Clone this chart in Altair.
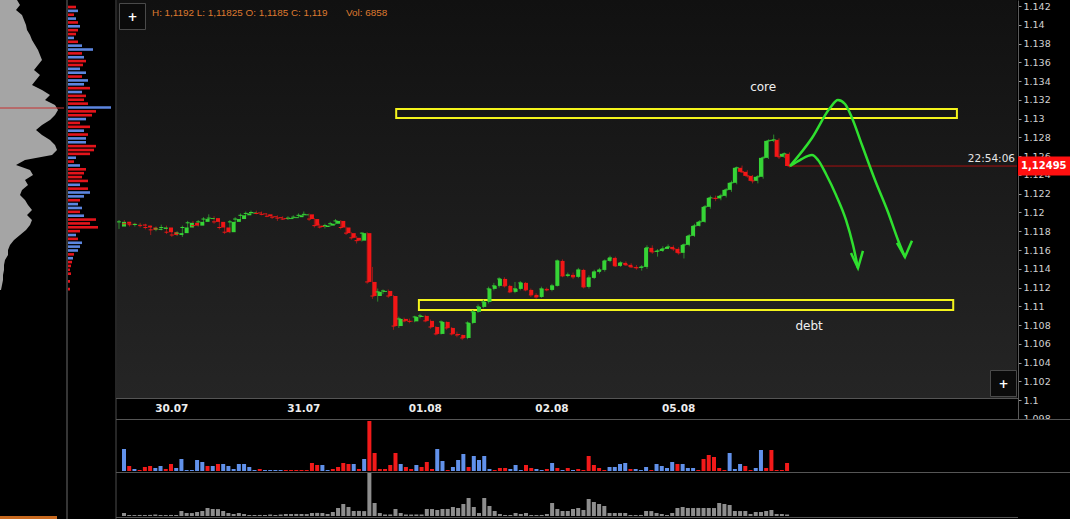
import altair as alt
import pandas as pd

# ---------------- hourly EUR/USD candles ----------------
OPEN = [1.1185, 1.1190, 1.1188, 1.1187, 1.11872, 1.1186, 1.1184, 1.11815, 1.11825, 1.1184,
        1.1179, 1.1176, 1.1178, 1.1184, 1.1189, 1.1186, 1.1190, 1.1193, 1.1194, 1.1190,
        1.1184, 1.1179, 1.1190, 1.1193, 1.1197, 1.1199, 1.1200, 1.1199, 1.1198, 1.1196,
        1.1195, 1.1194, 1.1193, 1.1194, 1.1195, 1.1197, 1.1198, 1.1193, 1.1186, 1.11845,
        1.1186, 1.1188, 1.1191, 1.1184, 1.1178, 1.1173, 1.1170, 1.1178, 1.1126, 1.1111,
        1.11154, 1.11164, 1.1111, 1.1079, 1.10866, 1.10845, 1.1084, 1.10887, 1.10898, 1.10845,
        1.1078, 1.10706, 1.10834, 1.1077, 1.10706, 1.10695, 1.10663, 1.10823, 1.10941, 1.10994,
        1.11047, 1.11186, 1.11218, 1.11292, 1.11218, 1.11154, 1.11186, 1.1125, 1.11175, 1.11122,
        1.1110, 1.11186, 1.11175, 1.11218, 1.11484, 1.11324, 1.11335, 1.11314, 1.11388, 1.11207,
        1.11303, 1.11367, 1.11388, 1.11484, 1.11516, 1.11431, 1.11463, 1.11442, 1.1142, 1.1141,
        1.1142, 1.11623, 1.1158, 1.1159, 1.11612, 1.11633, 1.11612, 1.1157, 1.11655, 1.11751,
        1.11857, 1.1190, 1.1206, 1.12156, 1.1215, 1.12177, 1.12241, 1.12316, 1.12476, 1.12433,
        1.1239, 1.12337, 1.1238, 1.12582, 1.12763, 1.12774, 1.12593, 1.12625]

HIGH = [1.1192, 1.1192, 1.1190, 1.1189, 1.1189, 1.1188, 1.1186, 1.1185, 1.1187, 1.1186,
        1.1181, 1.1180, 1.1186, 1.1191, 1.1191, 1.1192, 1.1195, 1.1198, 1.1196, 1.1192,
        1.1186, 1.1192, 1.1195, 1.1199, 1.1201, 1.1202, 1.1202, 1.1201, 1.1199, 1.1198,
        1.1197, 1.1196, 1.1196, 1.1197, 1.1199, 1.1201, 1.1199, 1.1194, 1.1188, 1.1188,
        1.1190, 1.1193, 1.1192, 1.1185, 1.1179, 1.1175, 1.1179, 1.1179, 1.1142, 1.1119,
        1.1118, 1.1118, 1.1112, 1.1089, 1.1088, 1.1087, 1.1090, 1.1092, 1.1091, 1.1086,
        1.1079, 1.1085, 1.1084, 1.1078, 1.1073, 1.1070, 1.1084, 1.1096, 1.1102, 1.1107,
        1.1121, 1.1125, 1.1131, 1.1131, 1.1123, 1.1126, 1.1127, 1.1126, 1.1119, 1.1114,
        1.1121, 1.1120, 1.1124, 1.1150, 1.1150, 1.1136, 1.1136, 1.1141, 1.1140, 1.1133,
        1.1139, 1.1141, 1.1150, 1.1154, 1.1153, 1.1148, 1.1148, 1.1146, 1.1144, 1.1144,
        1.1165, 1.1165, 1.1161, 1.1164, 1.1166, 1.1165, 1.1163, 1.1167, 1.1177, 1.1188,
        1.1192, 1.1208, 1.1218, 1.1218, 1.1220, 1.1226, 1.1234, 1.1249, 1.1250, 1.1245,
        1.1240, 1.1240, 1.1260, 1.1278, 1.1283, 1.1279, 1.1264, 1.1264]

LOW = [1.11825, 1.1186, 1.1185, 1.1185, 1.1184, 1.1182, 1.1176, 1.1180, 1.1181, 1.1177,
       1.1174, 1.1175, 1.1174, 1.1182, 1.1184, 1.1185, 1.1189, 1.1191, 1.1188, 1.1182,
       1.1177, 1.1178, 1.1189, 1.1192, 1.1196, 1.1198, 1.1198, 1.1197, 1.1195, 1.1193,
       1.1191, 1.1192, 1.1192, 1.1193, 1.1194, 1.1196, 1.1191, 1.1184, 1.1183, 1.1183,
       1.1185, 1.1187, 1.1182, 1.1176, 1.1171, 1.1167, 1.1169, 1.1124, 1.1108, 1.1105,
       1.1113, 1.1109, 1.1075, 1.1077, 1.1083, 1.1082, 1.1083, 1.1087, 1.1083, 1.1076,
       1.1069, 1.1070, 1.1075, 1.1069, 1.1067, 1.1064, 1.1065, 1.1081, 1.1093, 1.1098,
       1.1103, 1.1117, 1.1120, 1.1120, 1.1114, 1.1114, 1.1117, 1.1116, 1.1110, 1.1108,
       1.1109, 1.1116, 1.1116, 1.1121, 1.1131, 1.1131, 1.1129, 1.1130, 1.1119, 1.1119,
       1.1129, 1.1135, 1.1137, 1.1147, 1.1142, 1.1142, 1.1143, 1.1141, 1.1139, 1.1138,
       1.1140, 1.1156, 1.1153, 1.1158, 1.1161, 1.1159, 1.1155, 1.1151, 1.1164, 1.1174,
       1.1185, 1.1189, 1.1204, 1.1212, 1.1213, 1.1216, 1.1222, 1.1230, 1.1242, 1.1237,
       1.1231, 1.1231, 1.1236, 1.1257, 1.1275, 1.1257, 1.1258, 1.1248]

CLOSE = [1.1190, 1.1188, 1.1187, 1.11872, 1.1186, 1.1184, 1.11815, 1.11825, 1.1184, 1.1179,
         1.1176, 1.1178, 1.1184, 1.1189, 1.1186, 1.1190, 1.1193, 1.1194, 1.1190, 1.1184,
         1.1179, 1.1190, 1.1193, 1.1197, 1.1199, 1.1200, 1.1199, 1.1198, 1.1196, 1.1195,
         1.1194, 1.1193, 1.1194, 1.1195, 1.1197, 1.1198, 1.1193, 1.1186, 1.11845, 1.1186,
         1.1188, 1.1191, 1.1184, 1.1178, 1.1173, 1.1170, 1.1178, 1.1126, 1.1111, 1.11154,
         1.11164, 1.1111, 1.1079, 1.10866, 1.10845, 1.1084, 1.10887, 1.10898, 1.10845, 1.1078,
         1.10706, 1.10834, 1.1077, 1.10706, 1.10695, 1.10663, 1.10823, 1.10941, 1.10994, 1.11047,
         1.11186, 1.11218, 1.11292, 1.11218, 1.11154, 1.11186, 1.1125, 1.11175, 1.11122, 1.1110,
         1.11186, 1.11175, 1.11218, 1.11484, 1.11324, 1.11335, 1.11314, 1.11388, 1.11207, 1.11303,
         1.11367, 1.11388, 1.11484, 1.11516, 1.11431, 1.11463, 1.11442, 1.1142, 1.1141, 1.1142,
         1.11623, 1.1158, 1.1159, 1.11612, 1.11633, 1.11612, 1.1157, 1.11655, 1.11751, 1.11857,
         1.1190, 1.1206, 1.12156, 1.1215, 1.12177, 1.12241, 1.12316, 1.12476, 1.12433, 1.1239,
         1.12337, 1.1238, 1.12582, 1.12763, 1.12774, 1.12593, 1.12625, 1.12495]

# total volume per candle
VOLUME = [6858, 2300, 2100, 2400, 2200, 2500, 3400, 2300, 2200, 2400,
          2300, 11400, 6900, 6700, 9100, 11400, 18300, 16000, 15800, 11400,
          6900, 4600, 6900, 4500, 2300, 2200, 2400, 2300, 3400, 2300,
          3400, 4600, 4500, 4700, 4600, 4400, 6900, 7100, 6800, 4600,
          9100, 18300, 27400, 20600, 11400, 11600, 11200, 98300, 29700, 6900,
          3400, 3500, 16000, 6900, 3400, 3300, 3500, 3400, 16000, 15900,
          13700, 16000, 16100, 20600, 18300, 27400, 41100, 20600, 6900, 41100,
          22900, 11400, 4600, 2300, 2300, 6900, 4600, 6900, 2300, 2200,
          2400, 4600, 29700, 16000, 11400, 11500, 16000, 18300, 13700, 38900,
          32000, 27400, 22900, 6900, 6800, 7000, 6900, 2300, 2200, 2400,
          11400, 11300, 6900, 4600, 2300, 6900, 18300, 20600, 18300, 18200,
          18400, 18300, 18300, 18200, 29700, 27400, 25100, 11400, 11300, 11500,
          4600, 9100, 9200, 11400, 13700, 4600, 4500, 3400]

# buy/sell imbalance per candle (b = buyers, r = sellers)
DELTA = [22, 5, 2, 1, 4, 5, 3, 5, 2, 7, 3, 12, 1, 1, 11, 9, 5, 5, 7, 7,
         5, 2, 7, 7, 4, 1, 2, 1, 1, 1, 1, 1, 1, 1, 1, 1, 8, 6, 6, 1,
         2, 4, 8, 7, 7, 2, 12, 50, 18, 2, 2, 6, 18, 7, 4, 2, 6, 4, 9, 2,
         22, 10, 1, 4, 11, 17, 4, 15, 11, 15, 2, 1, 3, 3, 2, 6, 1, 6, 3, 2,
         1, 2, 8, 3, 1, 3, 1, 2, 1, 15, 6, 3, 1, 4, 4, 7, 8, 2, 2, 1,
         4, 1, 7, 5, 3, 9, 7, 7, 3, 3, 1, 12, 16, 14, 3, 1, 18, 2, 7, 5,
         1, 3, 21, 3, 21, 1, 1, 8]
DELTA_SIDE = list("brbrrrbbrr" "bbbbbbrbrb" "bbbbbbrbbb" "brrrrrrrbb" "rrrrbrbrrr"
                  "rrrbrrbrrr" "bbrbbbrbbb" "brrrbbbrrb" "brbrbrbrrr" "rrrbbbbrbb"
                  "brbbbbrbbb" "rrrrrrbbbr" "rbbrrrrr")

DAY_LABELS = ["30.07", "31.07", "01.08", "02.08", "05.08"]
DAY_START = [10, 35, 58, 82, 106]

PRICE_TICKS = [1.098, 1.1, 1.102, 1.104, 1.106, 1.108, 1.11, 1.112, 1.114, 1.116, 1.118,
               1.12, 1.122, 1.124, 1.126, 1.128, 1.13, 1.132, 1.134, 1.136, 1.138, 1.14, 1.142]

LAST_TIME = "22:54:06"

# supply / demand zones
ZONE_NAME = ["core", "debt"]
ZONE_START = [52.5, 56.8]
ZONE_END = [158.7, 158.0]
ZONE_TOP = [1.13103, 1.11067]
ZONE_BOTTOM = [1.13007, 1.10961]
ZONE_LABEL_IDX = [122.0, 130.7]
ZONE_LABEL_PRICE = [1.1334, 1.1079]

# projected paths (drawn by hand on the chart)
PATH_UP_IDX = [127.08, 131.25, 134.66, 136.17, 137.5, 138.83, 140.72, 143.18, 145.64, 147.54, 148.86]
PATH_UP_PRICE = [1.12495, 1.12794, 1.13113, 1.13198, 1.13156, 1.13007, 1.12719, 1.12346, 1.12005, 1.11707, 1.11526]
HEAD_UP_IDX = [147.35, 148.86, 150.19]
HEAD_UP_PRICE = [1.11675, 1.11526, 1.11700]
PATH_DN_IDX = [127.08, 128.98, 131.25, 132.39, 133.9, 135.8, 137.69, 139.02, 139.96]
PATH_DN_PRICE = [1.12495, 1.12559, 1.12612, 1.12559, 1.1241, 1.12186, 1.1192, 1.11653, 1.11408]
HEAD_DN_IDX = [138.64, 139.96, 140.9]
HEAD_DN_PRICE = [1.11568, 1.11408, 1.11590]

# volume profile (rows top to bottom)
PROFILE_VOL = [17, 20, 16, 22, 24, 26, 27, 30, 32, 35, 38, 40, 42, 38, 34, 40, 36, 32, 42, 50,
               45, 55, 58, 55, 50, 42, 36, 42, 50, 55, 57, 52, 25, 16, 30, 33, 25, 28, 22, 20,
               25, 28, 32, 27, 32, 30, 26, 20, 14, 10, 8, 8, 5, 4, 4, 3, 3, 2, 1]
PROFILE2_LEN = [8, 10, 6, 8, 10, 12, 10, 8, 6, 10, 14, 25, 14, 16, 18, 15, 12, 18, 14, 20,
                16, 22, 14, 18, 16, 20, 43, 28, 24, 18, 12, 22, 16, 20, 18, 18, 28, 26, 22, 8,
                6, 12, 18, 16, 14, 20, 12, 20, 22, 16, 12, 10, 14, 12, 16, 28, 22, 30, 12, 8,
                10, 14, 12, 10, 6, 5, 4, 3, 2, 3, 0, 2, 0, 2, 0]
PROFILE2_SIDE = list("rbrbrbrrbr" "bbrbrrbbrb" "brbrrrbrrb" "rrbrbbrrrb" "rbrrrrbrbb"
                     "rbbrbrrrrb" "rbbbrbrrrr" "rrrrr")

# ---------------- scales ----------------
X_IDX = alt.Scale(domain=[-0.38, 170.08], range=[117, 1017], nice=False, zero=False)
Y_PRICE = alt.Scale(domain=[1.0979, 1.14264], range=[419.9, 0], nice=False, zero=False)
Y_DELTA = alt.Scale(domain=[0, 50], range=[471, 421], nice=False)
Y_VOL = alt.Scale(domain=[0, 98300], range=[516, 473], nice=False)
Y_PROF = alt.Scale(domain=[0, 58], range=[0, 290], nice=False, zero=False)
X_PROF = alt.Scale(domain=[0, 65], range=[0, 65], nice=False)
Y_PROF2 = alt.Scale(domain=[0, 74], range=[2, 298], nice=False, zero=False)
X_PROF2 = alt.Scale(domain=[0, 45], range=[68, 113], nice=False)

DIR_COLOR = alt.Scale(domain=["up", "down"], range=["#36d436", "#f21616"])
WICK_COLOR = alt.Scale(domain=["up", "down"], range=["#2c8a2c", "#9a1a1a"])
SIDE_COLOR = alt.Scale(domain=["b", "r"], range=["#6191ea", "#f21a1a"])
PROF2_COLOR = alt.Scale(domain=["b", "r"], range=["#5c86e0", "#e3141b"])

FONT = "DejaVu Sans"


def fmt_price(v):
    return f"{v:.5f}".rstrip("0").replace(".", ",")


N = len(CLOSE)
candles = pd.DataFrame({
    "idx": list(range(N)),
    "open": OPEN, "high": HIGH, "low": LOW, "close": CLOSE,
    "volume": VOLUME, "delta": DELTA, "side": DELTA_SIDE,
})
candles["dir"] = ["up" if c >= o else "down" for o, c in zip(OPEN, CLOSE)]

zones = pd.DataFrame({
    "name": ZONE_NAME, "start": ZONE_START, "end": ZONE_END,
    "top": ZONE_TOP, "bottom": ZONE_BOTTOM,
    "lx": ZONE_LABEL_IDX, "ly": ZONE_LABEL_PRICE,
})
days = pd.DataFrame({"idx": DAY_START, "label": DAY_LABELS})
last = pd.DataFrame({
    "idx": [N - 1], "end": [X_IDX.domain[1]], "price": [CLOSE[-1]],
    "label": [fmt_price(CLOSE[-1])], "time": [LAST_TIME],
})

paths = []
for name, xs, ys in [("up", PATH_UP_IDX, PATH_UP_PRICE), ("down", PATH_DN_IDX, PATH_DN_PRICE)]:
    for k, (a, b) in enumerate(zip(xs, ys)):
        paths.append({"path": name, "seq": k, "idx": a, "price": b})
paths = pd.DataFrame(paths)
heads = []
for name, xs, ys in [("up", HEAD_UP_IDX, HEAD_UP_PRICE), ("down", HEAD_DN_IDX, HEAD_DN_PRICE)]:
    for k, (a, b) in enumerate(zip(xs, ys)):
        heads.append({"path": name, "seq": k, "idx": a, "price": b})
heads = pd.DataFrame(heads)

profile = pd.DataFrame({"row": list(range(len(PROFILE_VOL))), "vol": PROFILE_VOL})
poc = pd.DataFrame({"row": [PROFILE_VOL.index(max(PROFILE_VOL)) - 0.4]})
profile2 = pd.DataFrame({"row": list(range(len(PROFILE2_LEN))), "len": PROFILE2_LEN,
                         "side": PROFILE2_SIDE})

one = pd.DataFrame({"k": [0]})


def box(x1, x2, y1, y2, **kw):
    return alt.Chart(one).mark_rect(**kw).encode(
        x=alt.value(x1), x2=alt.value(x2), y=alt.value(y1), y2=alt.value(y2))


def hline(y, x1, x2, color="#4d4d4d"):
    return alt.Chart(one).mark_rule(color=color, strokeWidth=1).encode(
        x=alt.value(x1), x2=alt.value(x2), y=alt.value(y))


def vline(x, y1, y2, color="#4d4d4d"):
    return alt.Chart(one).mark_rule(color=color, strokeWidth=1).encode(
        x=alt.value(x), y=alt.value(y1), y2=alt.value(y2))


def label(x, y, text, font=FONT, **kw):
    return alt.Chart(one).mark_text(text=text, font=font, **kw).encode(
        x=alt.value(x), y=alt.value(y))


# ---------------- layers ----------------
layers = []

# main panel background
layers.append(box(117, 1017, 0, 398, fill=alt.LinearGradient(
    gradient="linear",
    stops=[alt.GradientStop(color="#111111", offset=0),
           alt.GradientStop(color="#252525", offset=1)],
    x1=0, x2=0, y1=0, y2=1)))

# volume profile (left)
layers.append(alt.Chart(profile).mark_area(orient="horizontal", color="#a5a5a5").encode(
    y=alt.Y("row:Q", scale=Y_PROF, axis=None),
    x=alt.X("vol:Q", scale=X_PROF, axis=None)))
layers.append(alt.Chart(poc).mark_rule(color="#c63030", strokeWidth=1).encode(
    y=alt.Y("row:Q", scale=Y_PROF, axis=None), x=alt.value(0), x2=alt.value(64)))

# bid/ask profile
layers.append(vline(67, 0, 519, "#6a6a6a"))
layers.append(alt.Chart(profile2).mark_bar(orient="horizontal", size=2.6).encode(
    y=alt.Y("row:Q", scale=Y_PROF2, axis=None),
    x=alt.X("len:Q", scale=X_PROF2, axis=None),
    color=alt.Color("side:N", scale=PROF2_COLOR, legend=None)))

# panel frames
layers.append(vline(116, 0, 519))
layers.append(hline(398.5, 116, 1018, "#555555"))
layers.append(hline(419.5, 116, 1070, "#555555"))
layers.append(hline(472.5, 116, 1070, "#555555"))
layers.append(hline(517.5, 116, 1070, "#555555"))

# current price line
layers.append(alt.Chart(last).mark_rule(color="#a81010", strokeWidth=1).encode(
    x=alt.X("idx:Q", scale=X_IDX, axis=None), x2="end:Q",
    y=alt.Y("price:Q", scale=Y_PRICE, axis=None)))

# zones
layers.append(alt.Chart(zones).mark_rect(fillOpacity=0, stroke="#f4f41c", strokeWidth=2).encode(
    x=alt.X("start:Q", scale=X_IDX, axis=None), x2="end:Q",
    y=alt.Y("top:Q", scale=Y_PRICE, axis=None), y2="bottom:Q"))
layers.append(alt.Chart(zones).mark_text(font=FONT, fontSize=12, color="#f0f0f0").encode(
    x=alt.X("lx:Q", scale=X_IDX, axis=None),
    y=alt.Y("ly:Q", scale=Y_PRICE, axis=None), text="name:N"))

# candles: wicks carry the price axis
layers.append(alt.Chart(candles).mark_rule(strokeWidth=1).encode(
    x=alt.X("idx:Q", scale=X_IDX, axis=None),
    y=alt.Y("low:Q", scale=Y_PRICE, axis=alt.Axis(
        orient="right", values=PRICE_TICKS, format=".3~f", title=None, grid=False,
        labelColor="#d2d2d2", labelFont=FONT, labelFontSize=9.5, labelPadding=2,
        labelOverlap=False, tickColor="#9a9a9a", tickSize=3, domainColor="#5a5a5a")),
    y2="high:Q",
    color=alt.Color("dir:N", scale=WICK_COLOR, legend=None)))
layers.append(alt.Chart(candles).mark_bar(size=4, orient="vertical").encode(
    x=alt.X("idx:Q", scale=X_IDX, axis=None),
    y=alt.Y("open:Q", scale=Y_PRICE, axis=None), y2="close:Q",
    color=alt.Color("dir:N", scale=DIR_COLOR, legend=None)))
layers.append(alt.Chart(candles).mark_tick(orient="horizontal", size=4, thickness=1, opacity=1).encode(
    x=alt.X("idx:Q", scale=X_IDX, axis=None),
    y=alt.Y("close:Q", scale=Y_PRICE, axis=None),
    color=alt.Color("dir:N", scale=DIR_COLOR, legend=None)))

# projected paths
layers.append(alt.Chart(paths).mark_line(color="#2fe02f", strokeWidth=2.5, interpolate="monotone").encode(
    x=alt.X("idx:Q", scale=X_IDX, axis=None),
    y=alt.Y("price:Q", scale=Y_PRICE, axis=None),
    detail="path:N", order="seq:Q"))
layers.append(alt.Chart(heads).mark_line(color="#2fe02f", strokeWidth=2.5).encode(
    x=alt.X("idx:Q", scale=X_IDX, axis=None),
    y=alt.Y("price:Q", scale=Y_PRICE, axis=None),
    detail="path:N", order="seq:Q"))

# date strip
layers.append(alt.Chart(days).mark_text(font=FONT, fontSize=10.5, fontWeight="bold",
                                        color="#ececec", baseline="middle").encode(
    x=alt.X("idx:Q", scale=X_IDX, axis=None), y=alt.value(409), text="label:N"))

# volume panels
layers.append(alt.Chart(candles).mark_bar(size=4, orient="vertical").encode(
    x=alt.X("idx:Q", scale=X_IDX, axis=None),
    y=alt.Y("delta:Q", scale=Y_DELTA, axis=None),
    color=alt.Color("side:N", scale=SIDE_COLOR, legend=None)))
layers.append(alt.Chart(candles).mark_bar(size=4, orient="vertical", color="#8e8e8e").encode(
    x=alt.X("idx:Q", scale=X_IDX, axis=None),
    y=alt.Y("volume:Q", scale=Y_VOL, axis=None)))

# price-axis column below the main panel
layers.append(box(1018, 1070, 419.5, 519, fill="#000000"))
layers.append(hline(419.5, 1018, 1070, "#555555"))
layers.append(hline(472.5, 1018, 1070, "#555555"))

# last price marker
layers.append(alt.Chart(last).mark_tick(orient="horizontal", size=52, thickness=19,
                                        color="#ff1010", opacity=1).encode(
    x=alt.value(1044), y=alt.Y("price:Q", scale=Y_PRICE, axis=None)))
layers.append(alt.Chart(last).mark_text(font=FONT, fontSize=10, fontWeight="bold", color="#ffffff",
                                        align="left", baseline="middle").encode(
    x=alt.value(1021), y=alt.Y("price:Q", scale=Y_PRICE, axis=None), text="label:N"))
layers.append(alt.Chart(last).mark_text(font=FONT, fontSize=10.5, color="#e6e6e6",
                                        align="right", baseline="bottom", dy=-2).encode(
    x=alt.value(1015), y=alt.Y("price:Q", scale=Y_PRICE, axis=None), text="time:N"))

# header
header = (f"H: {fmt_price(HIGH[0])} L: {fmt_price(LOW[0])} "
          f"O: {fmt_price(OPEN[0])} C: {fmt_price(CLOSE[0])}")
layers.append(label(152, 13, header, font="Liberation Sans", fontSize=9.9,
                    color="#df7a30", align="left", baseline="middle"))
layers.append(label(346, 13, f"Vol: {VOLUME[0]}", font="Liberation Sans", fontSize=9.9,
                    color="#df7a30", align="left", baseline="middle"))

# zoom buttons
layers.append(box(119.5, 145.5, 3.5, 29.5, fill="#0b0b0b", stroke="#4a4a4a", strokeWidth=1))
layers.append(label(132.5, 17, "+", fontSize=12, fontWeight="bold", color="#ffffff",
                    align="center", baseline="middle"))
layers.append(box(990.5, 1016.5, 370.5, 396.5, fill="#0b0b0b", stroke="#4a4a4a", strokeWidth=1))
layers.append(label(1003.5, 384, "+", fontSize=12, fontWeight="bold", color="#ffffff",
                    align="center", baseline="middle"))

# status strip
layers.append(box(0, 57, 516, 519, fill="#c8691f"))

chart = alt.layer(*layers).resolve_scale(
    x="independent", y="independent", color="independent"
).properties(
    width=1018, height=519,
    autosize=alt.AutoSizeParams(type="none"),
    padding={"left": 0, "top": 0, "right": 52, "bottom": 0},
    background="#000000",
).configure_view(strokeWidth=0)

chart.save("out.html", embed_options={"renderer": "svg", "actions": False})
